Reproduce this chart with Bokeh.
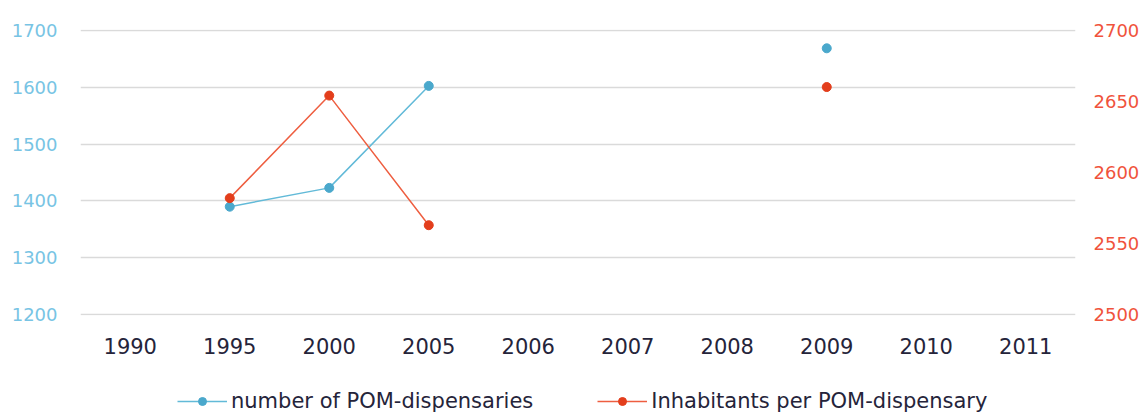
from bokeh.plotting import figure
from bokeh.layouts import column
from bokeh.models import Range1d, LinearAxis, FixedTicker, Legend, LegendItem, FactorRange
from bokeh.embed import file_html
from bokeh.resources import INLINE

nan = float("nan")
years = ["1990", "1995", "2000", "2005", "2006", "2007", "2008", "2009", "2010", "2011"]
dispensaries = [nan, 1390, 1423, 1602, nan, nan, nan, 1668, nan, nan]
inhabitants = [nan, 2582, 2654, 2563, nan, nan, nan, 2660, nan, nan]
left_ticks = [1200, 1300, 1400, 1500, 1600, 1700]
right_ticks = [2500, 2550, 2600, 2650, 2700]
labels = ["number of POM-dispensaries", "Inhabitants per POM-dispensary"]

BLUE_LINE = "#62bad8"
BLUE_DOT = "#4aa8cc"
RED_LINE = "#ee5e40"
RED_DOT = "#e33e1c"
FONT = "DejaVu Sans"
TOTAL_W = 1145

p = figure(width=TOTAL_W, height=375, x_range=FactorRange(factors=years),
           y_range=Range1d(1199, 1701), output_backend="svg", toolbar_location=None,
           min_border_left=80, min_border_right=70, min_border_top=29, min_border_bottom=60)
p.extra_y_ranges = {"right": Range1d(2499.6, 2700.4)}
p.outline_line_color = None
p.background_fill_color = "white"
p.border_fill_color = "white"

p.xgrid.grid_line_color = None
p.ygrid.grid_line_color = "#dadada"
p.ygrid.grid_line_width = 1.5
p.yaxis.ticker = FixedTicker(ticks=left_ticks)

for ax in [p.xaxis[0], p.yaxis[0]]:
    ax.axis_line_color = None
    ax.major_tick_line_color = None
    ax.minor_tick_line_color = None
    ax.major_tick_out = 0
    ax.major_tick_in = 0
    ax.minor_tick_out = 0

p.yaxis.major_label_text_color = "#78c4e4"
p.yaxis.major_label_text_font = FONT
p.yaxis.major_label_text_font_size = "18px"
p.yaxis.major_label_standoff = 23

p.xaxis.major_label_text_color = "#25243a"
p.xaxis.major_label_text_font = FONT
p.xaxis.major_label_text_font_size = "21px"
p.xaxis.major_label_standoff = 22

ry = LinearAxis(y_range_name="right", ticker=FixedTicker(ticks=right_ticks))
ry.axis_line_color = None
ry.major_tick_line_color = None
ry.minor_tick_line_color = None
ry.major_tick_out = 0
ry.major_tick_in = 0
ry.minor_tick_out = 0
ry.major_label_text_color = "#f0533c"
ry.major_label_text_font = FONT
ry.major_label_text_font_size = "18px"
ry.major_label_standoff = 18
p.add_layout(ry, "right")

p.line(years, dispensaries, line_color=BLUE_LINE, line_width=1.5)
p.scatter(years, dispensaries, size=9, fill_color=BLUE_DOT, line_color=BLUE_DOT)
p.line(years, inhabitants, line_color=RED_LINE, line_width=1.5, y_range_name="right")
p.scatter(years, inhabitants, size=9, fill_color=RED_DOT, line_color=RED_DOT, y_range_name="right")

# legend strip below the chart (its series lie outside this strip's ranges, so only the legend shows)
q = figure(width=TOTAL_W, height=38, x_range=FactorRange(factors=years), y_range=Range1d(0, 1),
           output_backend="svg", toolbar_location=None,
           x_axis_location=None, y_axis_location=None,
           min_border_left=80, min_border_right=70, min_border_top=0, min_border_bottom=0)
q.extra_y_ranges = {"right": Range1d(0, 1)}
q.outline_line_color = None
q.xgrid.grid_line_color = None
q.ygrid.grid_line_color = None
kl1 = q.line(years, dispensaries, line_color=BLUE_LINE, line_width=1.5)
ks1 = q.scatter(years, dispensaries, size=9, fill_color=BLUE_DOT, line_color=BLUE_DOT)
kl2 = q.line(years, inhabitants, line_color=RED_LINE, line_width=1.5, y_range_name="right")
ks2 = q.scatter(years, inhabitants, size=9, fill_color=RED_DOT, line_color=RED_DOT, y_range_name="right")

legend = Legend(items=[LegendItem(label=labels[0], renderers=[kl1, ks1]),
                       LegendItem(label=labels[1], renderers=[kl2, ks2])],
                orientation="horizontal", location=(97, 0))
legend.glyph_width = 50
legend.glyph_height = 20
legend.label_height = 20
legend.label_standoff = 4
legend.spacing = 64
legend.padding = 0
legend.margin = 0
legend.border_line_color = None
legend.background_fill_alpha = 0
legend.label_text_font = FONT
legend.label_text_font_size = "21px"
legend.label_text_color = "#25243a"
q.add_layout(legend, "center")

layout = column(p, q, spacing=0)
open("out.html", "w").write(file_html(layout, INLINE))
